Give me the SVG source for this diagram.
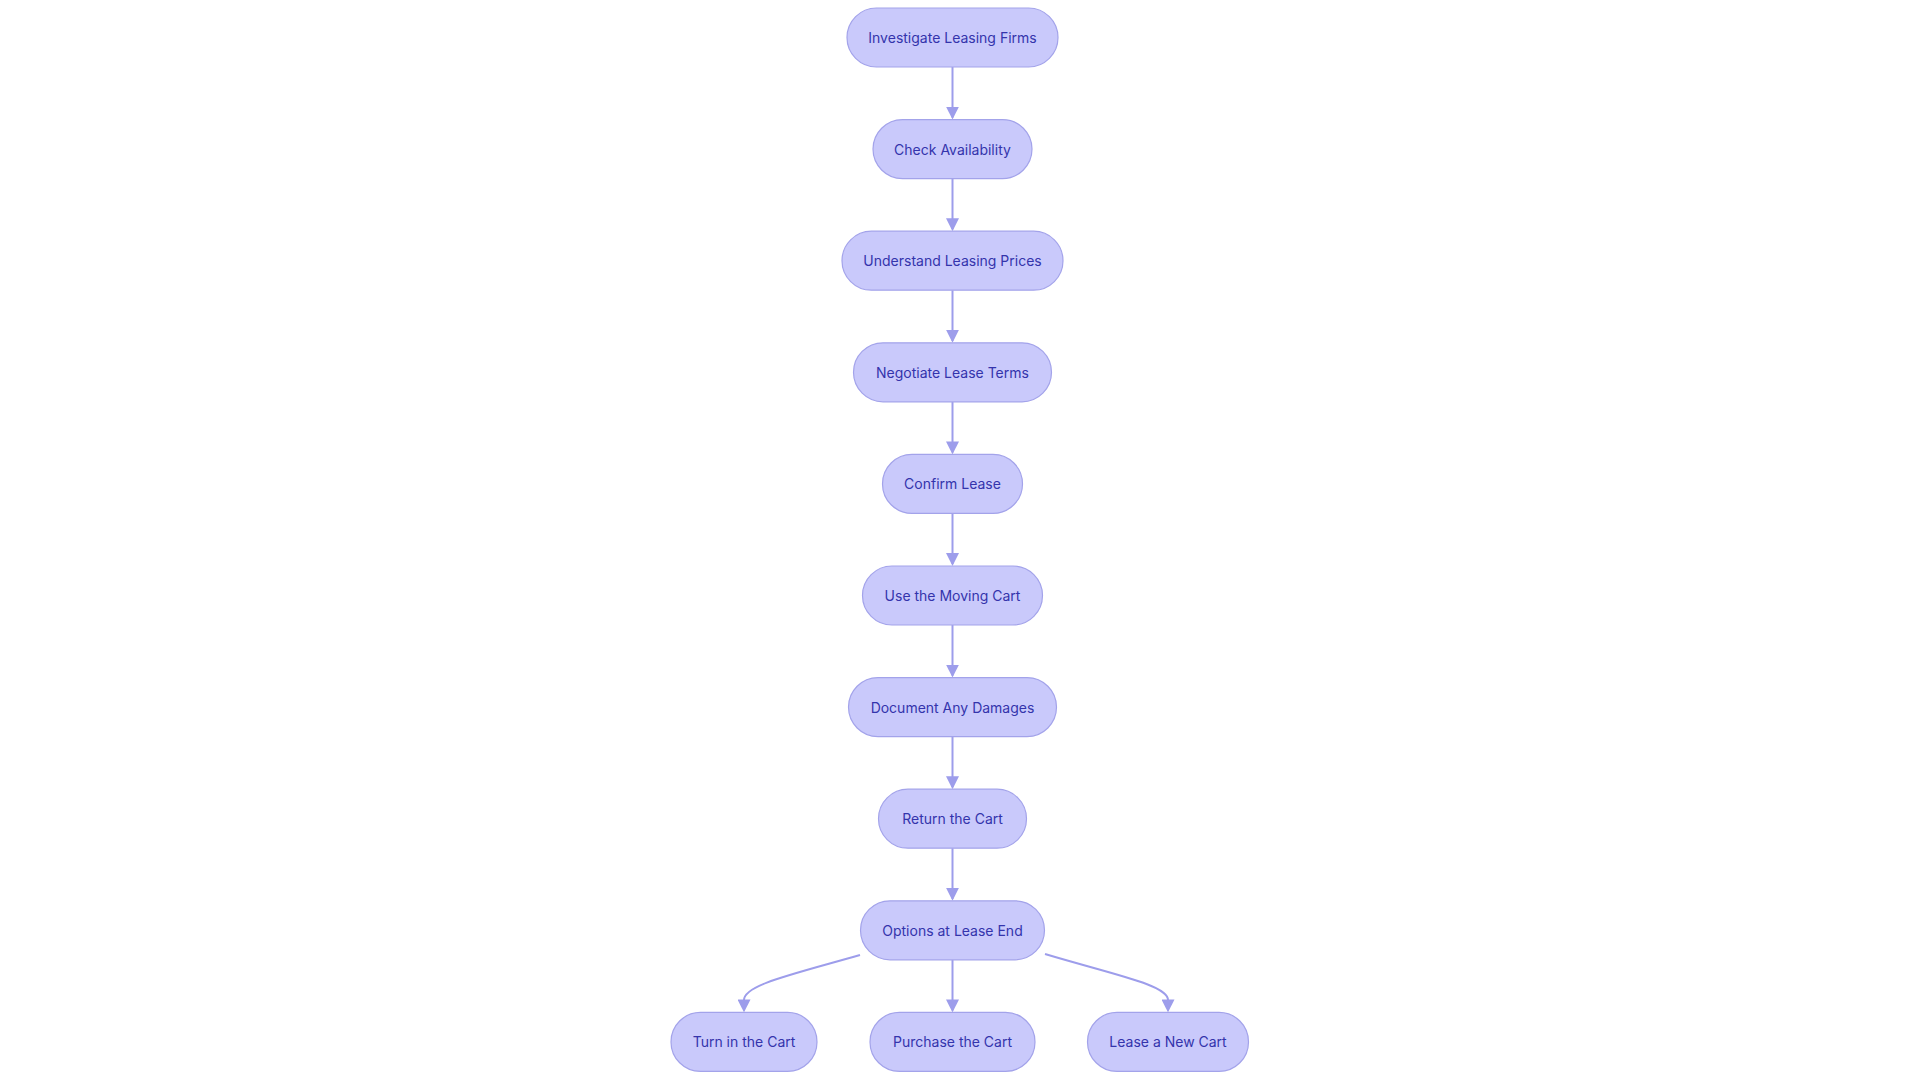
<svg xmlns="http://www.w3.org/2000/svg" width="1920" height="1080" viewBox="0 0 1920 1080">
<defs>
<style>
.node rect{fill:#c9c9fb;stroke:#a3a3ea;stroke-width:1.2}
.node text{font-family:Inter,"Open Sans","Liberation Sans",sans-serif;font-size:14px;font-weight:400;fill:#3434ac;text-anchor:middle;dominant-baseline:central}
.edge{fill:none;stroke:#9d9deb;stroke-width:2}
</style>
<marker id="arr" viewBox="0 0 13 13" refX="11" refY="6.5" markerWidth="13" markerHeight="13" markerUnits="userSpaceOnUse" orient="auto">
<path d="M0,0 L13,6.5 L0,13 z" fill="#9d9deb"/>
</marker>
</defs>
<rect width="1920" height="1080" fill="#ffffff"/>
<g id="edges">
<path class="edge" marker-end="url(#arr)" d="M952.5,67 L952.5,117.6"/>
<path class="edge" marker-end="url(#arr)" d="M952.5,178.6 L952.5,229.2"/>
<path class="edge" marker-end="url(#arr)" d="M952.5,290.2 L952.5,340.8"/>
<path class="edge" marker-end="url(#arr)" d="M952.5,401.8 L952.5,452.4"/>
<path class="edge" marker-end="url(#arr)" d="M952.5,513.4 L952.5,564"/>
<path class="edge" marker-end="url(#arr)" d="M952.5,625 L952.5,675.6"/>
<path class="edge" marker-end="url(#arr)" d="M952.5,736.6 L952.5,787.2"/>
<path class="edge" marker-end="url(#arr)" d="M952.5,848.2 L952.5,898.8"/>
<path class="edge" marker-end="url(#arr)" d="M952.5,959.8 L952.5,1010.4"/>
<path class="edge" marker-end="url(#arr)" d="M860,955 C790,975 744,985 744,1000 L744,1010.4"/>
<path class="edge" marker-end="url(#arr)" d="M1045,954 C1115,975 1168,985 1168,1000 L1168,1010.4"/>
</g>
<g id="n1" class="node"><rect x="847" y="8" width="211" height="59" rx="29.5"/><text x="952.5" y="37.5">Investigate Leasing Firms</text></g>
<g id="n2" class="node"><rect x="873" y="119.6" width="159" height="59" rx="29.5"/><text x="952.5" y="149.1">Check Availability</text></g>
<g id="n3" class="node"><rect x="842" y="231.2" width="221" height="59" rx="29.5"/><text x="952.5" y="260.7">Understand Leasing Prices</text></g>
<g id="n4" class="node"><rect x="853.5" y="342.8" width="198" height="59" rx="29.5"/><text x="952.5" y="372.3">Negotiate Lease Terms</text></g>
<g id="n5" class="node"><rect x="882.5" y="454.4" width="140" height="59" rx="29.5"/><text x="952.5" y="483.9">Confirm Lease</text></g>
<g id="n6" class="node"><rect x="862.5" y="566" width="180" height="59" rx="29.5"/><text x="952.5" y="595.5">Use the Moving Cart</text></g>
<g id="n7" class="node"><rect x="848.5" y="677.6" width="208" height="59" rx="29.5"/><text x="952.5" y="707.1">Document Any Damages</text></g>
<g id="n8" class="node"><rect x="878.5" y="789.2" width="148" height="59" rx="29.5"/><text x="952.5" y="818.7">Return the Cart</text></g>
<g id="n9" class="node"><rect x="860.5" y="900.8" width="184" height="59" rx="29.5"/><text x="952.5" y="930.3">Options at Lease End</text></g>
<g id="n10" class="node"><rect x="671" y="1012.4" width="146" height="59" rx="29.5"/><text x="744" y="1041.9">Turn in the Cart</text></g>
<g id="n11" class="node"><rect x="870" y="1012.4" width="165" height="59" rx="29.5"/><text x="952.5" y="1041.9">Purchase the Cart</text></g>
<g id="n12" class="node"><rect x="1087.5" y="1012.4" width="161" height="59" rx="29.5"/><text x="1168" y="1041.9">Lease a New Cart</text></g>
</svg>
